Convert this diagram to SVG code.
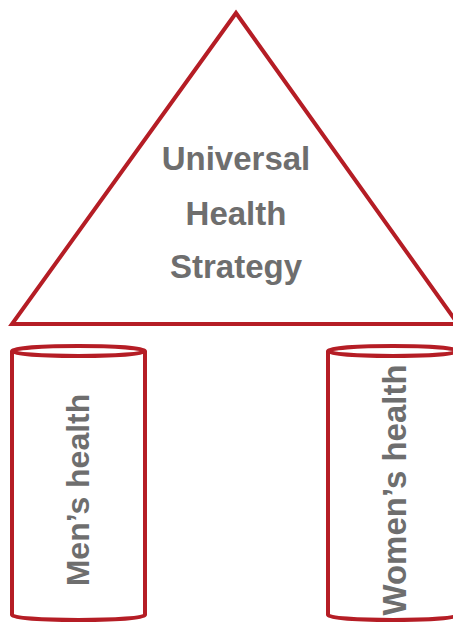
<svg xmlns="http://www.w3.org/2000/svg" width="453" height="624" viewBox="0 0 453 624">
<style>
.shape{fill:#ffffff;stroke:#b51d25;stroke-width:4;stroke-linejoin:miter}
.lbl{font-family:"Liberation Sans",Arial,sans-serif;font-weight:bold;fill:#6e6e6e;text-anchor:middle}
</style>
<rect width="453" height="624" fill="#ffffff"/>
<g id="roof">
<polygon class="shape" points="236,13 12,324 458,324"/>
<text class="lbl" x="236" y="170" font-size="33">Universal</text>
<text class="lbl" x="236" y="225" font-size="33">Health</text>
<text class="lbl" x="236" y="278" font-size="33">Strategy</text>
</g>
<g id="pillar-men">
<path class="shape" d="M12,351 L12,615 A66.5,5 0 0 0 145,615 L145,351"/>
<ellipse class="shape" cx="78.5" cy="351" rx="66.5" ry="5"/>
<text class="lbl" font-size="32" transform="translate(89,490) rotate(-90)">Men’s health</text>
</g>
<g id="pillar-women">
<path class="shape" d="M328,351 L328,615 A65,5 0 0 0 458,615 L458,351"/>
<ellipse class="shape" cx="393" cy="351" rx="65" ry="5"/>
<text class="lbl" font-size="33" transform="translate(406,490) rotate(-90)">Women’s health</text>
</g>
<g id="connectors"></g>
</svg>
